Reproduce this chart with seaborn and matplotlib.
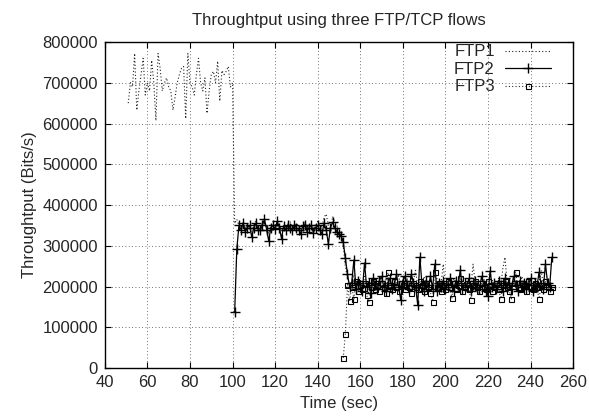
import numpy as np
import pandas as pd
import matplotlib
matplotlib.use("Agg")
import matplotlib.pyplot as plt
import seaborn as sns

# throughput samples in kbit/s, one per second
ftp1_start = 51
ftp1 = [650, 700, 690, 772, 633, 680, 720, 760, 670, 700,
        680, 755, 700, 607, 772, 735, 680, 700, 712, 690,
        680, 633, 665, 700, 720, 735, 740, 612, 772, 700,
        690, 670, 720, 760, 700, 680, 712, 625, 680, 720,
        728, 700, 753, 655, 730, 720, 728, 740, 690, 700,
        355, 365, 350, 345, 360, 340, 355, 348, 335, 350,
        362, 345, 340, 355, 365, 345, 330, 350, 355, 345,
        360, 350, 335, 352, 345, 355, 360, 345, 350, 355,
        348, 340, 352, 358, 345, 350, 355, 342, 348, 360,
        352, 345, 370, 378, 350, 330, 372, 360, 350, 340,
        325, 300, 250,
        220, 205, 195, 230, 210, 190, 215, 200, 225, 205,
        185, 210, 220, 195, 205, 215, 200, 190, 225, 210,
        200, 185, 215, 205, 230, 195, 210, 200, 220, 190,
        205, 215, 240, 200, 195, 210, 225, 200, 190, 215,
        205, 200, 220, 195, 210, 255, 200, 190, 215, 205,
        220, 195, 210, 200, 225, 190, 205, 215, 200, 255,
        210, 195, 180, 205, 220, 200, 210, 195, 215, 205,
        190, 220, 200, 245, 272, 210, 195, 205, 215, 200,
        190, 210, 225, 200, 195, 215, 205, 190, 220, 200,
        210, 240, 205, 195, 215, 200, 210]

ftp2_start = 101
ftp2 = [137, 292, 350, 340, 355, 335, 345, 350, 322, 345,
        355, 340, 338, 350, 365, 340, 312, 345, 350, 342,
        360, 345, 318, 348, 340, 352, 345, 338, 350, 345,
        340, 330, 348, 352, 335, 345, 350, 332, 345, 350,
        338, 330, 355, 340, 305, 345, 358, 345, 335, 330,
        325, 310, 270, 230, 200, 210, 265, 195, 215, 205,
        190, 258, 200, 210, 185, 220, 205, 195, 215, 225,
        200, 190, 210, 220, 195, 205, 230, 200, 168, 215,
        225, 205, 195, 230, 210, 200, 155, 272, 205, 190,
        215, 200, 225, 195, 255, 190, 210, 200, 215, 195,
        205, 220, 200, 190, 215, 205, 240, 195, 210, 200,
        220, 190, 205, 215, 200, 195, 225, 205, 190, 178,
        238, 200, 210, 195, 215, 205, 190, 220, 200, 210,
        195, 225, 205, 190, 215, 200, 210, 195, 205, 220,
        190, 210, 200, 235, 205, 195, 255, 210, 200, 272]

ftp3_start = 152
ftp3 = [25, 83, 205, 165, 200, 170, 215, 190, 205, 195,
        210, 180, 162, 200, 215, 195, 205, 190, 210, 200,
        185, 235, 205, 195, 215, 200, 190, 210, 205, 195,
        220, 200, 185, 210, 200, 195, 215, 205, 190, 210,
        200, 185, 163, 235, 200, 210, 190, 205, 195, 215,
        200, 172, 210, 195, 205, 220, 190, 200, 210, 195,
        168, 205, 215, 200, 190, 210, 200, 195, 215, 205,
        190, 200, 210, 195, 170, 205, 215, 200, 190, 170,
        210, 237, 200, 195, 210, 205, 190, 215, 200, 195,
        210, 200, 170, 205, 195, 215, 200, 190, 198]


def to_df(start, vals):
    return pd.DataFrame({"time": start + np.arange(len(vals)),
                         "bps": np.array(vals) * 1000})


d1 = to_df(ftp1_start, ftp1)
d2 = to_df(ftp2_start, ftp2)
d3 = to_df(ftp3_start, ftp3)

sns.set_style("ticks")
plt.rcParams["font.family"] = ["Liberation Sans", "DejaVu Sans"]

fig = plt.figure(figsize=(5.89, 4.16), dpi=100)
ax = fig.add_axes([0.178, 0.115, 0.795, 0.784])

dots = (0, (1, 2))
sns.lineplot(data=d1, x="time", y="bps", ax=ax, color="#222222", linestyle=dots,
             linewidth=0.8, label="FTP1")
sns.lineplot(data=d2, x="time", y="bps", ax=ax, color="black", linewidth=0.9,
             marker="+", markersize=7, markeredgewidth=1.0, markeredgecolor="black",
             label="FTP2")
sns.lineplot(data=d3, x="time", y="bps", ax=ax, color="#333333", linestyle=dots,
             linewidth=0.8, marker="s", markersize=3.6, markerfacecolor="none",
             markeredgecolor="black", markeredgewidth=0.8, label="FTP3")

ax.set_xlim(40, 260)
ax.set_ylim(0, 800000)
ax.set_xticks(range(40, 261, 20))
ax.set_yticks(range(0, 800001, 100000))
ax.ticklabel_format(style="plain", axis="y")
ax.grid(True, color="#444444", linestyle=(0, (1, 3)), linewidth=0.6)
ax.tick_params(direction="in", top=True, right=True, labelsize=12, length=4,
               color="black", pad=5)
for s in ax.spines.values():
    s.set_color("black")
    s.set_linewidth(1.0)

ax.set_xlabel("Time (sec)", fontsize=12, labelpad=4)
ax.set_ylabel("Throughtput (Bits/s)", fontsize=12)
ax.set_title("Throughtput using three FTP/TCP flows", fontsize=12, pad=12)

leg = ax.legend(loc="upper right", bbox_to_anchor=(0.968, 1.013), frameon=False,
                markerfirst=False, fontsize=12, handlelength=2.8, handletextpad=0.6,
                borderaxespad=0.0, labelspacing=0.15)

fig.savefig("out.png", dpi=100)
